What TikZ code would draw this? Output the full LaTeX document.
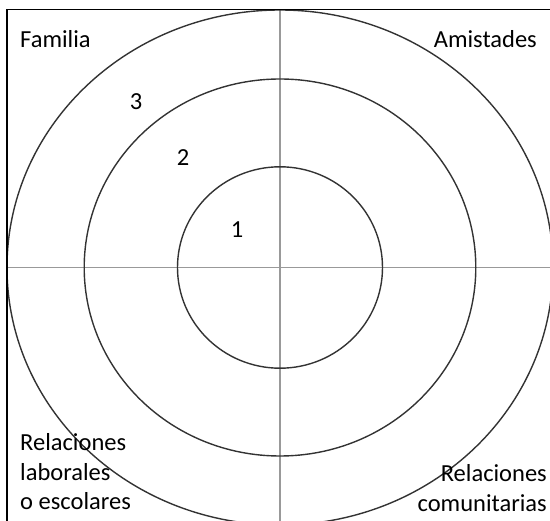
\documentclass[tikz,border=0pt]{standalone}
\usepackage{fontspec}
\setmainfont{Carlito}
\begin{document}
\begin{tikzpicture}[x=1pt,y=-1pt,
  ring/.style={draw=black!80,line width=1.4pt},
  axis/.style={draw=black!40,line width=1.3pt},
  frame/.style={draw=black,line width=1.8pt},
  lbl/.style={font=\fontsize{24.5}{29.5}\selectfont,inner sep=0pt},
  num/.style={font=\fontsize{24.5}{29.5}\selectfont,inner sep=0pt}]
\useasboundingbox (0,0) rectangle (550,521);
\clip (0,0) rectangle (550,521);
\coordinate (c) at (280,267.5);
\coordinate (top) at (280,9.5);
\coordinate (bot) at (280,530);
\coordinate (lft) at (7,267.5);
\coordinate (rgt) at (560,267.5);
\draw[axis] (top) -- (bot);
\draw[axis] (lft) -- (rgt);
\draw[ring] (c) ellipse [x radius=102.5, y radius=100.7];
\draw[ring] (c) ellipse [x radius=195.8, y radius=188.5];
\draw[ring] (c) ellipse [x radius=273, y radius=257.5];
\draw[frame] (7,540) -- (7,9.5) -- (560,9.5);
\node[lbl,anchor=base west] (fam) at (20,48) {Familia};
\node[lbl,anchor=base east] (ami) at (537,48) {Amistades};
\node[lbl,anchor=base west,align=left] (lab) at (20,510) {Relaciones\\laborales\\o escolares};
\node[lbl,anchor=base east,align=right] (com) at (547,511.5) {Relaciones\\comunitarias};
\node[num] (n3) at (136,102) {3};
\node[num] (n2) at (183,158) {2};
\node[num] (n1) at (237,230) {1};
\end{tikzpicture}
\end{document}
